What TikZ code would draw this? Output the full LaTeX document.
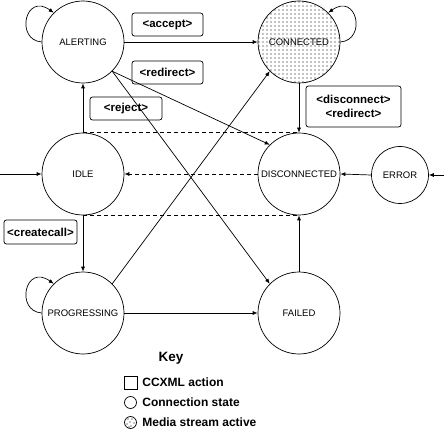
\documentclass[tikz,border=0pt]{standalone}
\usepackage{fontspec}
\setmainfont{Liberation Sans}
\usetikzlibrary{arrows.meta}
\begin{document}
\begin{tikzpicture}[x=1pt,y=-1pt,
  state/.style={draw,circle,minimum size=82pt,inner sep=0pt,font=\fontsize{9.5}{10}\selectfont},
  smallstate/.style={draw,circle,minimum size=57pt,inner sep=0pt,font=\fontsize{9.5}{10}\selectfont},
  action/.style={draw,rounded corners=2.5pt,inner sep=0pt,font=\fontsize{11.5}{13.5}\selectfont\bfseries,align=center},
  keytext/.style={anchor=west,inner sep=0pt,font=\fontsize{12}{14}\selectfont\bfseries},
  edge/.style={line width=0.7pt,-{Latex[length=5pt,width=4pt]}},
  dashedge/.style={line width=0.7pt,dash pattern=on 4pt off 3pt},
  line width=0.7pt]
\useasboundingbox (0,0) rectangle (444,430);
% dotted fill for CONNECTED
\begin{scope}
\clip (299,42) circle (41);
\foreach \i in {0,...,21}{\foreach \j in {0,...,21}{
  \fill ({259+4*\i},{2+4*\j}) circle (0.55);}}
\end{scope}
\node[state] (A) at (83,42) {ALERTING};
\node[state] (C) at (299,42) {CONNECTED};
\node[state] (I) at (83,174) {IDLE};
\node[state] (D) at (299,174) {DISCONNECTED};
\node[smallstate] (E) at (400,175) {ERROR};
\node[state] (P) at (83,313) {PROGRESSING};
\node[state] (F) at (299,313) {FAILED};
\coordinate (inI) at (0,174);
\coordinate (inE) at (444,175);
% action labels
\node[action,minimum width=71pt,minimum height=23pt] (accept) at (167.5,24.5) {<accept>};
\node[action,minimum width=71pt,minimum height=23pt] (redirect) at (167.5,72.5) {<redirect>};
\node[action,minimum width=72pt,minimum height=23pt] (reject) at (126,108.5) {<reject>};
\node[action,minimum width=95pt,minimum height=41pt] (disc) at (353.5,106.5) {<disconnect>\\<redirect>};
\node[action,minimum width=73pt,minimum height=24pt] (create) at (40.5,232) {<createcall>};
% transitions
\draw[edge] (A.east) -- (C.west);
\draw[edge] (I.north) -- (A.south);
\draw[edge] (A.-45) -- (D.135);
\draw[edge] (A.-45) -- (F.135);
\draw[edge] (P.45) -- (C.-135);
\draw[edge] (P.east) -- (F.west);
\draw[edge] (I.south) -- (P.north);
\draw[edge] (C.south) -- (D.north);
\draw[edge] (F.north) -- (D.south);
\draw[edge] (E.west) -- (D.east);
\draw[edge] (inI) -- (I.west);
\draw[edge] (inE) -- (E.east);
\draw[dashedge,-{Latex[length=5pt,width=4pt]}] (D.west) -- (I.east);
\draw[dashedge] (I.north) -- (D.north);
\draw[dashedge] (I.south) -- (D.south);
% self loops
\draw[edge] (A.180) .. controls (15,40) and (25,-8) .. (A.135);
\draw[edge] (C.0) .. controls (367,40) and (357,-8) .. (C.45);
\draw[edge] (P.180) .. controls (15,311) and (25,263) .. (P.135);
% key
\node[inner sep=0pt,font=\fontsize{13.5}{15}\selectfont\bfseries] (key) at (171,358) {Key};
\node[draw,minimum size=13pt,inner sep=0pt] (k1) at (130.5,382.5) {};
\node[keytext] (t1) at (142,382.5) {CCXML action};
\node[draw,circle,minimum size=12pt,inner sep=0pt] (k2) at (130.5,402.5) {};
\node[keytext] (t2) at (142,402.5) {Connection state};
\begin{scope}
\clip (130.5,422.5) circle (6);
\foreach \p in {(128,419),(132,419),(130,422),(134,423),(127,424),(131,426),(129,427)}{\fill \p circle (0.6);}
\end{scope}
\node[draw,circle,minimum size=12pt,inner sep=0pt] (k3) at (130.5,422.5) {};
\node[keytext] (t3) at (142,422.5) {Media stream active};
\end{tikzpicture}
\end{document}
